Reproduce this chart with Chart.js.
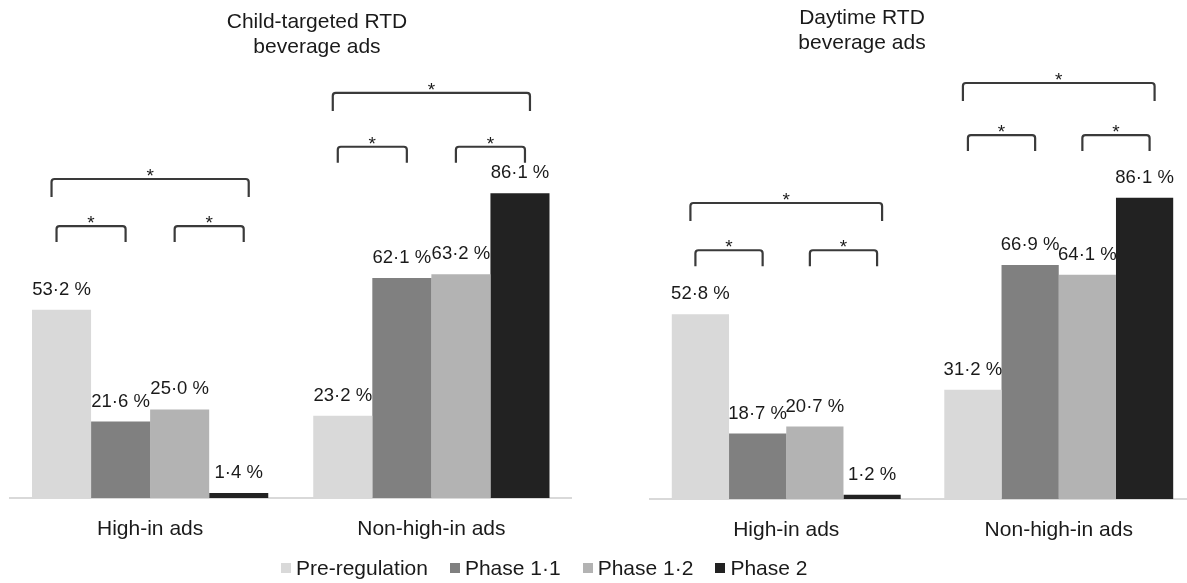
<!DOCTYPE html>
<html>
<head>
<meta charset="utf-8">
<script src="https://cdn.jsdelivr.net/npm/chart.js@4/dist/chart.umd.min.js"></script>
<style>
  html, body { margin: 0; padding: 0; background: #fff; overflow: hidden; width: 1187px; height: 583px; }
  body { position: relative; font-family: "Liberation Sans", Arial, sans-serif; color: #1a1a1a; }
  .panel { position: absolute; top: 0; height: 583px; }
  #childPanel { left: 0; width: 572px; }
  #dayPanel { left: 640px; width: 555px; }
  .title { position: absolute; font-size: 21px; line-height: 25px; text-align: center; white-space: nowrap; transform: translateX(-50%); }
  #childTitle { left: 317px; top: 8px; }
  #dayTitle { left: 862px; top: 4px; }
  #legend { position: absolute; left: 281px; top: 556px; display: flex; align-items: center; font-size: 21px; line-height: 24px; white-space: nowrap; }
  .item { display: flex; align-items: center; margin-right: 22px; }
  .swatch { width: 10px; height: 10px; margin-right: 5px; }
</style>
</head>
<body>
<div class="panel" id="childPanel"><canvas id="childChart"></canvas></div>
<div class="panel" id="dayPanel"><canvas id="dayChart"></canvas></div>
<div class="title" id="childTitle"></div>
<div class="title" id="dayTitle"></div>
<div id="legend"></div>

<script>
// Categories and series
const categories = ['High-in ads', 'Non-high-in ads'];
const seriesNames = ['Pre-regulation', 'Phase 1·1', 'Phase 1·2', 'Phase 2'];

// Child-targeted RTD beverage ads (%)
const childPre = [53.2, 23.2];
const childPhase11 = [21.6, 62.1];
const childPhase12 = [25.0, 63.2];
const childPhase2 = [1.4, 86.1];

// Daytime RTD beverage ads (%)
const dayPre = [52.8, 31.2];
const dayPhase11 = [18.7, 66.9];
const dayPhase12 = [20.7, 64.1];
const dayPhase2 = [1.2, 86.1];

const childTitleLines = ['Child-targeted RTD', 'beverage ads'];
const dayTitleLines = ['Daytime RTD', 'beverage ads'];

// Significance brackets: category, first and last series compared, height in % units
const childBrackets = [
  { cat: 0, from: 0, to: 3, level: 90.1 },
  { cat: 0, from: 0, to: 1, level: 76.8 },
  { cat: 0, from: 2, to: 3, level: 76.8 },
  { cat: 1, from: 0, to: 3, level: 114.4 },
  { cat: 1, from: 0, to: 1, level: 99.2 },
  { cat: 1, from: 2, to: 3, level: 99.2 }
];
const dayBrackets = [
  { cat: 0, from: 0, to: 3, level: 84.6 },
  { cat: 0, from: 0, to: 1, level: 71.1 },
  { cat: 0, from: 2, to: 3, level: 71.1 },
  { cat: 1, from: 0, to: 3, level: 118.9 },
  { cat: 1, from: 0, to: 1, level: 104.0 },
  { cat: 1, from: 2, to: 3, level: 104.0 }
];

const colors = ['#d9d9d9', '#808080', '#b3b3b3', '#222222'];
const FONT = '"Liberation Sans", Arial, sans-serif';
const TEXT = '#1a1a1a';

function fmt(v) {
  return v.toFixed(1).replace('.', '·') + ' %';
}

// Draws value labels above bars and the significance brackets with asterisks
function makeAnnotations(brackets) {
  return {
    id: 'annotations',
    afterDatasetsDraw(chart) {
      const ctx = chart.ctx;
      const yScale = chart.scales.y;
      ctx.save();
      ctx.fillStyle = TEXT;
      ctx.textAlign = 'center';
      ctx.textBaseline = 'alphabetic';
      ctx.font = '18.5px ' + FONT;
      chart.data.datasets.forEach((ds, i) => {
        chart.getDatasetMeta(i).data.forEach((bar, j) => {
          ctx.fillText(fmt(ds.data[j]), bar.x, bar.y - 15);
        });
      });

      ctx.strokeStyle = '#3a3a3a';
      ctx.lineWidth = 2.2;
      ctx.lineJoin = 'round';
      ctx.font = '19px ' + FONT;
      brackets.forEach(b => {
        const a = chart.getDatasetMeta(b.from).data[b.cat];
        const c = chart.getDatasetMeta(b.to).data[b.cat];
        const wide = (b.to - b.from) > 1;
        const ext = wide ? 10 : 5;
        const leg = wide ? 18 : 16;
        const x0 = a.x - ext;
        const x1 = c.x + ext;
        const top = yScale.getPixelForValue(b.level);
        const r = 3;
        ctx.beginPath();
        ctx.moveTo(x0, top + leg);
        ctx.arcTo(x0, top, x1, top, r);
        ctx.arcTo(x1, top, x1, top + leg, r);
        ctx.lineTo(x1, top + leg);
        ctx.stroke();
        ctx.fillText('*', (x0 + x1) / 2, top + 3);
      });
      ctx.restore();
    }
  };
}

function buildChart(canvasId, seriesValues, brackets, yMax, padLeft, padBottom) {
  return new Chart(document.getElementById(canvasId), {
    type: 'bar',
    data: {
      labels: categories,
      datasets: seriesNames.map((name, i) => ({
        label: name,
        data: seriesValues[i],
        backgroundColor: colors[i],
        borderWidth: 0,
        categoryPercentage: 0.84,
        barPercentage: 1.0
      }))
    },
    options: {
      responsive: true,
      maintainAspectRatio: false,
      animation: false,
      events: [],
      layout: { padding: { top: 20, left: padLeft, right: 0, bottom: padBottom } },
      plugins: {
        legend: { display: false },
        title: { display: false },
        tooltip: { enabled: false }
      },
      scales: {
        x: {
          grid: { display: false, drawTicks: false },
          border: { display: true, color: '#d9d9d9', width: 2 },
          ticks: { color: TEXT, font: { family: FONT, size: 21 }, padding: 19, maxRotation: 0 },
          afterFit(scale) { scale.height = 50; }
        },
        y: { display: false, min: 0, max: yMax }
      }
    },
    plugins: [makeAnnotations(brackets)]
  });
}

buildChart('childChart', [childPre, childPhase11, childPhase12, childPhase2], childBrackets, 135.0, 9.5, 35);
buildChart('dayChart', [dayPre, dayPhase11, dayPhase12, dayPhase2], dayBrackets, 136.9, 10, 34);

// Titles
document.getElementById('childTitle').innerHTML = childTitleLines.join('<br>');
document.getElementById('dayTitle').innerHTML = dayTitleLines.join('<br>');

// Shared legend
const legend = document.getElementById('legend');
seriesNames.forEach((name, i) => {
  const item = document.createElement('div');
  item.className = 'item';
  const sw = document.createElement('span');
  sw.className = 'swatch';
  sw.style.background = colors[i];
  const label = document.createElement('span');
  label.textContent = name;
  item.appendChild(sw);
  item.appendChild(label);
  legend.appendChild(item);
});
</script>
</body>
</html>
